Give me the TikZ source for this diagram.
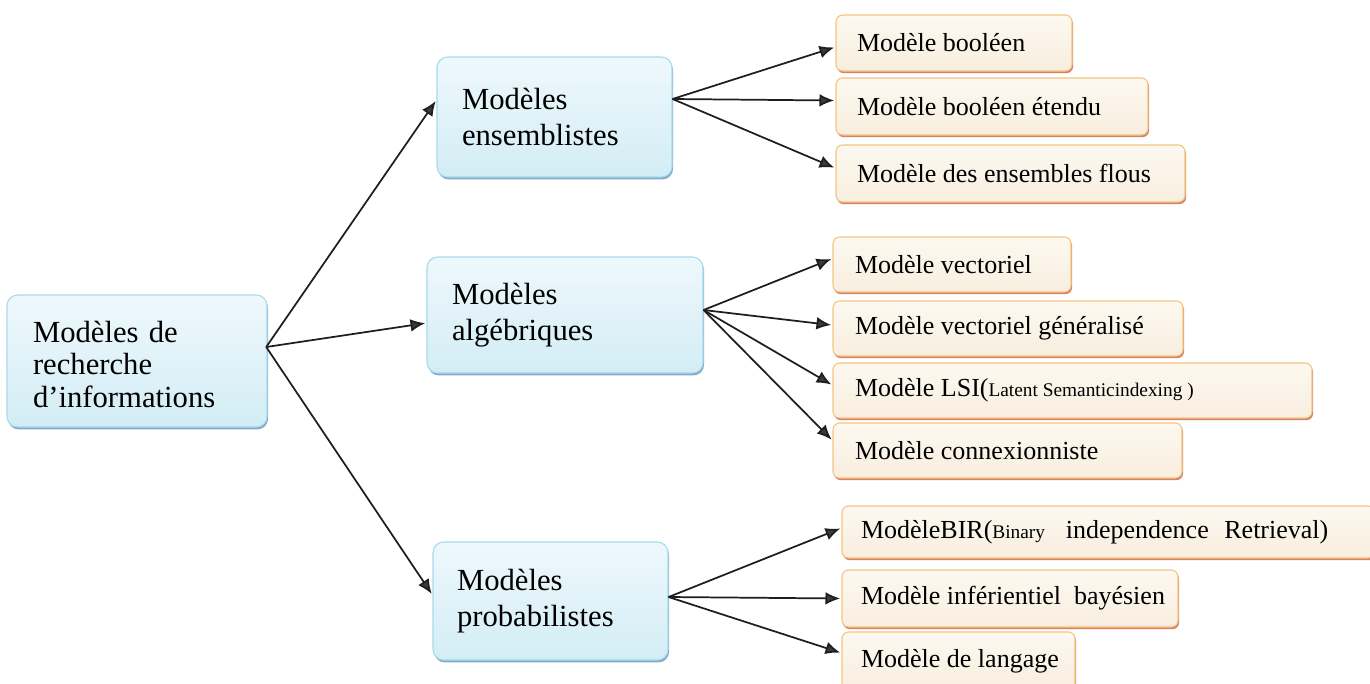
\documentclass[tikz,border=0pt]{standalone}
\usepackage{fontspec}
\setmainfont{Liberation Serif}
\usetikzlibrary{shadows,arrows.meta}
\definecolor{bluefillA}{HTML}{EEF8FC}
\definecolor{bluefillB}{HTML}{D3EDF5}
\definecolor{blueline}{HTML}{A6DBEC}
\definecolor{blueshade}{HTML}{6F9CC2}
\definecolor{orfillA}{HTML}{FDF8F0}
\definecolor{orfillB}{HTML}{F8EEDF}
\definecolor{orline}{HTML}{F3C57E}
\definecolor{orshade}{HTML}{D0694E}
\definecolor{arrowcol}{HTML}{1E1E1E}
\definecolor{tipcol}{HTML}{3A3A3A}
\begin{document}
\begin{tikzpicture}[x=0.75pt,y=-0.75pt,
  catbox/.style={draw=blueline, line width=0.8pt, rounded corners=8pt,
    top color=bluefillA, bottom color=bluefillB, align=left, inner ysep=0pt,
    drop shadow={shadow xshift=0.8pt, shadow yshift=-1.8pt, fill=blueshade, opacity=0.85},
    font=\fontsize{23}{27}\selectfont},
  leafbox/.style={draw=orline, line width=0.8pt, rounded corners=5pt,
    top color=orfillA, bottom color=orfillB, inner ysep=0pt,
    drop shadow={shadow xshift=0.8pt, shadow yshift=-1.6pt, fill=orshade, opacity=0.85},
    font=\fontsize{19.5}{22}\selectfont},
  link/.style={draw=arrowcol, line width=1.3pt,
    -{Latex[length=11pt,width=9.5pt,fill=tipcol]}, shorten >=1pt}]
\useasboundingbox[fill=white] (0,0) rectangle (1370,683);

% root
\node[catbox, font=\fontsize{23}{24.5}\selectfont, text width=156pt, inner xsep=19.5pt,
  minimum height=99pt] (root) at (137,361)
  {\rule{0pt}{21pt}Modèles de\\recherche\\d’informations};

% categories
\node[catbox, text width=138.75pt, inner xsep=18.75pt, minimum height=90pt]
  (ens) at (554.5,117) {Modèles\\ensemblistes};
\node[catbox, text width=169.5pt, inner xsep=18.75pt, minimum height=87pt]
  (alg) at (565,315) {Modèles\\algébriques};
\node[catbox, text width=140.25pt, inner xsep=18pt, minimum height=88.5pt]
  (pro) at (550.5,601) {Modèles\\probabilistes};

% set-theoretic models
\node[leafbox, inner xsep=15.75pt, minimum height=42pt]
  (bool) at (954,43) {\makebox[145.5pt][l]{Modèle booléen}};
\node[leafbox, inner xsep=15.75pt, minimum height=42.75pt]
  (boolx) at (992,106.5) {\makebox[202.5pt][l]{Modèle booléen étendu}};
\node[leafbox, inner xsep=15.75pt, minimum height=42.75pt]
  (fuzzy) at (1010.5,173.5) {\makebox[230.25pt][l]{Modèle des ensembles flous}};

% algebraic models
\node[leafbox, inner xsep=16.5pt, minimum height=41.25pt]
  (vec) at (952,264.5) {\makebox[145.5pt][l]{Modèle vectoriel}};
\node[leafbox, inner xsep=16.5pt, minimum height=41.25pt]
  (gvec) at (1008,328.5) {\makebox[229.5pt][l]{Modèle vectoriel généralisé}};
\node[leafbox, inner xsep=16.5pt, minimum height=41.25pt]
  (lsi) at (1072.5,390.5)
  {\makebox[326.25pt][l]{Modèle LSI({\fontsize{14.5}{16}\selectfont Latent Semanticindexing )}}};
\node[leafbox, inner xsep=16.5pt, minimum height=41.25pt]
  (conn) at (1007.5,450.5) {\makebox[228.75pt][l]{Modèle connexionniste}};

% probabilistic models
\node[leafbox, inner xsep=14.25pt, minimum height=39pt]
  (bir) at (1108.5,532)
  {\makebox[371.25pt][l]{ModèleBIR({\fontsize{14.5}{16}\selectfont Binary}\hspace{0.8em}independence\hspace{0.6em}Retrieval)}};
\node[leafbox, inner xsep=14.25pt, minimum height=42.75pt]
  (bayes) at (1010,598.5) {\makebox[223.5pt][l]{Modèle inférientiel\ \ bayésien}};
\node[leafbox, inner xsep=14.25pt, minimum height=43.5pt]
  (lang) at (958.5,661) {\makebox[146.25pt][l]{Modèle de langage}};

% connectors
\draw[link] ([xshift=-1pt,yshift=10.5pt]root.east) -- ([yshift=12.75pt]ens.west);
\draw[link] ([xshift=-1pt,yshift=10.5pt]root.east) -- ([yshift=-6pt]alg.west);
\draw[link] ([xshift=-1pt,yshift=10.5pt]root.east) -- ([yshift=4.5pt]pro.west);

\draw[link] ([yshift=13.5pt]ens.east) -- ([yshift=-3pt]bool.west);
\draw[link] ([yshift=13.5pt]ens.east) -- ([yshift=4.5pt]boolx.west);
\draw[link] ([yshift=13.5pt]ens.east) -- ([yshift=4pt]fuzzy.west);

\draw[link] ([yshift=3.75pt]alg.east) -- ([yshift=4.5pt]vec.west);
\draw[link] ([yshift=3.75pt]alg.east) -- ([yshift=2.5pt]gvec.west);
\draw[link] ([yshift=3.75pt]alg.east) -- ([yshift=4pt]lsi.west);
\draw[link] ([yshift=3.75pt]alg.east) -- ([yshift=7.5pt]conn.west);

\draw[link] ([yshift=3pt]pro.east) -- ([yshift=3pt]bir.west);
\draw[link] ([yshift=3pt]pro.east) -- (bayes.west);
\draw[link] ([yshift=3pt]pro.east) -- ([yshift=6pt]lang.west);
\end{tikzpicture}
\end{document}
